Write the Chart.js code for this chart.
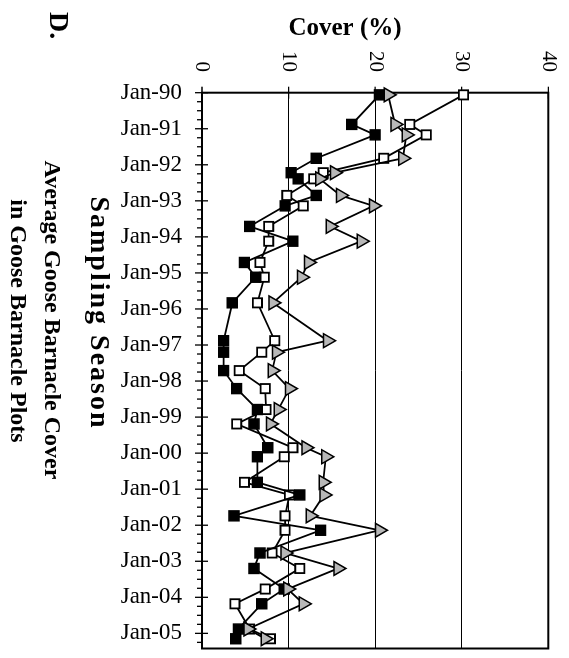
<!DOCTYPE html>
<html>
<head>
<meta charset="utf-8">
<script src="https://cdn.jsdelivr.net/npm/chart.js@4.4.0/dist/chart.umd.min.js"></script>
<style>
html, body { margin: 0; padding: 0; background: #fff; overflow: hidden; }
#page { width: 569px; height: 658px; position: relative; overflow: hidden; }
/* chart is laid out landscape, then turned a quarter clockwise like the printed figure */
#turn { position: absolute; left: 0; top: 0; width: 658px; height: 569px;
        transform-origin: 0 0; transform: translate(569px, 0) rotate(90deg); }
</style>
</head>
<body>
<div id="page"><div id="turn"><canvas id="cover"></canvas></div></div>
<script>
// sampling dates (decimal years) and % cover for the three plot series
var sampleYears = [1990.06, 1990.88, 1991.17, 1991.82, 1992.22, 1992.39, 1992.85, 1993.14,
  1993.71, 1994.12, 1994.71, 1995.12, 1995.83, 1996.88, 1997.20, 1997.71, 1998.21, 1998.79,
  1999.19, 1999.85, 2000.10, 2000.81, 2001.16, 2001.74, 2002.14, 2002.77, 2003.20, 2003.77,
  2004.18, 2004.88, 2005.15];
var blackSquares = [20.5, 17.3, 20.0, 13.2, 10.3, 11.1, 13.2, 9.6, 5.5, 10.5, 4.9, 6.2, 3.5,
  2.5, 2.5, 2.5, 4.0, 6.4, 6.0, 7.6, 6.4, 6.4, 11.3, 3.7, 13.7, 6.7, 6.0, 9.5, 6.9, 4.2, 3.9];
var openSquares = [30.2, 24.0, 25.9, 21.0, 14.0, 12.9, 9.8, 11.7, 7.7, 7.7, 6.7, 7.2, 6.4,
  8.4, 6.9, 4.3, 7.3, 7.4, 4.0, 10.5, 9.5, 4.9, 10.1, 9.6, 9.6, 8.1, 11.3, 7.3, 3.8, 5.5, 7.9];
var greyTriangles = [21.5, 22.3, 23.6, 23.2, 15.3, 13.6, 16.0, 19.8, 14.8, 18.4, 12.3, 11.5,
  8.2, 14.5, 8.6, 8.1, 10.1, 8.8, 7.9, 12.0, 14.3, 14.0, 14.1, 12.5, 20.5, 9.6, 15.7, 9.9,
  11.7, 5.3, 7.3];
var janYears = [1990, 1991, 1992, 1993, 1994, 1995, 1996, 1997, 1998, 1999, 2000, 2001,
  2002, 2003, 2004, 2005];
var yearFirst = 1990, yearLast = 2005.42;
var coverMin = 0, coverMax = 40, coverStep = 10;

var serif = '"Liberation Serif", "Times New Roman", serif';

function pairUp(vals) {
  return sampleYears.map(function (x, i) { return { x: x, y: vals[i] }; });
}
function janLabel(v) {
  return 'Jan-' + String(Math.round(v) % 100).padStart(2, '0');
}

// frame, crossing tick marks and the free-standing titles
var decor = {
  id: 'decor',
  beforeDatasetsDraw: function (chart) {
    var ctx = chart.ctx, a = chart.chartArea;
    var xs = chart.scales.x, ys = chart.scales.y;
    ctx.save();
    ctx.strokeStyle = '#000';
    ctx.lineWidth = 1.3;
    ctx.beginPath();
    for (var k = 0; yearFirst + k / 4 <= yearLast; k++) {
      var px = xs.getPixelForValue(yearFirst + k / 4);
      if (k % 4 == 0) { ctx.moveTo(px, a.bottom - 6); ctx.lineTo(px, a.bottom + 7); }
      else { ctx.moveTo(px, a.bottom); ctx.lineTo(px, a.bottom + 5); }
    }
    for (var c = coverMin; c <= coverMax; c += coverStep) {
      var py = ys.getPixelForValue(c);
      ctx.moveTo(a.left - 6, py); ctx.lineTo(a.left + 6, py);
    }
    ctx.stroke();
    ctx.lineWidth = 2;
    ctx.strokeRect(a.left, a.top, a.right - a.left, a.bottom - a.top);
    ctx.restore();
  },
  afterDraw: function (chart) {
    var ctx = chart.ctx;
    ctx.save();
    ctx.fillStyle = '#000';
    ctx.textBaseline = 'middle';
    ctx.textAlign = 'center';
    ctx.save();
    ctx.translate(29, 224);
    ctx.rotate(-Math.PI / 2);
    ctx.font = 'bold 25px ' + serif;
    ctx.fillText('Cover (%)', 0, 0);
    ctx.restore();
    ctx.font = 'bold 28px ' + serif;
    ctx.letterSpacing = '2px';
    ctx.fillText('Sampling Season', 313, 471);
    ctx.letterSpacing = '0px';
    ctx.font = 'bold 24px ' + serif;
    ctx.fillText('Average Goose Barnacle Cover', 320, 518);
    ctx.fillText('in Goose Barnacle Plots', 321, 552);
    ctx.textAlign = 'left';
    ctx.font = 'bold 28px ' + serif;
    ctx.fillText('D.', 12, 512);
    ctx.restore();
  }
};

new Chart(document.getElementById('cover'), {
  type: 'line',
  plugins: [decor],
  data: {
    datasets: [
      { label: 'Triangles', data: pairUp(greyTriangles), order: 0, clip: false,
        borderColor: '#000', borderWidth: 1.8, pointStyle: 'triangle', pointRadius: 8,
        pointBackgroundColor: '#b8b8b8', pointBorderColor: '#000', pointBorderWidth: 1.5 },
      { label: 'Filled', data: pairUp(blackSquares), order: 1, clip: false,
        borderColor: '#000', borderWidth: 1.8, pointStyle: 'rect', pointRadius: 7,
        pointBackgroundColor: '#000', pointBorderColor: '#000', pointBorderWidth: 1.5 },
      { label: 'Open', data: pairUp(openSquares), order: 2, clip: false,
        borderColor: '#000', borderWidth: 1.8, pointStyle: 'rect', pointRadius: 6.5,
        pointBackgroundColor: '#fff', pointBorderColor: '#000', pointBorderWidth: 1.8 }
    ]
  },
  options: {
    responsive: true,
    maintainAspectRatio: false,
    animation: false,
    layout: { padding: { left: 0, right: 5.3, top: 20.7, bottom: 0 } },
    plugins: { legend: { display: false }, tooltip: { enabled: false } },
    scales: {
      x: {
        type: 'linear', min: yearFirst, max: yearLast,
        grid: { display: false, drawTicks: false }, border: { display: false },
        ticks: { autoSkip: false, minRotation: 90, maxRotation: 90, padding: 20,
                 color: '#000', font: { family: serif, size: 23 }, callback: janLabel },
        afterBuildTicks: function (s) {
          s.ticks = janYears.map(function (v) { return { value: v }; });
        },
        afterFit: function (s) { s.height = 202; s.paddingLeft = 0; s.paddingRight = 0; }
      },
      y: {
        min: coverMin, max: coverMax,
        grid: { color: '#000', lineWidth: 1, drawTicks: false }, border: { display: false },
        ticks: { stepSize: coverStep, padding: 20.7, color: '#000',
                 font: { family: serif, size: 21 } },
        afterFit: function (s) { s.width = 92.7; s.paddingTop = 0; s.paddingBottom = 0; }
      }
    }
  }
});
</script>
</body>
</html>
